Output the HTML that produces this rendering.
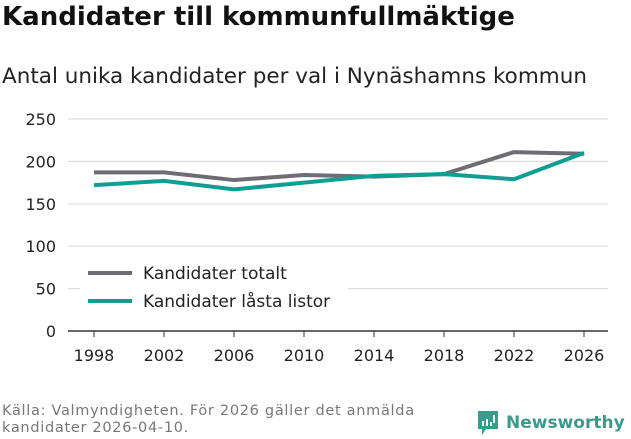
<!DOCTYPE html>
<html><head><meta charset="utf-8"><style>
body{margin:0;width:631px;height:439px;background:#fff;font-family:"DejaVu Sans","Liberation Sans",sans-serif;overflow:hidden;position:relative}
h1{position:absolute;left:2px;top:2px;margin:0;font-size:26px;font-weight:bold;color:#111}
h2{position:absolute;left:2px;top:64px;margin:0;font-size:21.5px;font-weight:normal;color:#222}
.src{position:absolute;left:2px;top:403px;font-size:14.5px;letter-spacing:0.7px;color:#777;line-height:17px}
.logo{position:absolute;left:476px;top:409px;display:flex;align-items:center;color:#3a9a8e;font-size:17px;font-weight:bold}
</style></head><body>
<h1>Kandidater till kommunfullmäktige</h1>
<h2>Antal unika kandidater per val i Nynäshamns kommun</h2>
<svg id="c" width="631" height="439" style="position:absolute;left:0;top:0"></svg>
<div class="src">Källa: Valmyndigheten. För 2026 gäller det anmälda<br>kandidater 2026-04-10.</div>
<div class="logo"><svg width="24" height="28" style="margin-right:6px"><path d="M2 2h20v18h-12l-4 6v-6h-4z" fill="#3a9a8e"/><rect x="6" y="12" width="2" height="5" fill="#fff"/><rect x="10" y="10" width="2" height="7" fill="#fff"/><rect x="14" y="13" width="2" height="4" fill="#fff"/><rect x="17" y="6" width="2" height="8" fill="#fff"/></svg>Newsworthy</div>
<script>
const years=[1998,2002,2006,2010,2014,2018,2022,2026];
const totalt=[187,187,178,184,182,185,211,209];
const lasta=[172,177,167,175,183,185,179,210];
const yTicks=[0,50,100,150,200,250];
const NS='http://www.w3.org/2000/svg';
const svg=document.getElementById('c');
const x=v=>94+(v-1998)/(2026-1998)*490;
const y=v=>331-v*0.848;
function el(t,a){const e=document.createElementNS(NS,t);for(const k in a)e.setAttribute(k,a[k]);svg.appendChild(e);return e;}
yTicks.forEach(t=>{
 const g=el('line',{x1:68,x2:608,y1:y(t),y2:y(t),stroke:t===0?'#333':'#ddd','stroke-width':t===0?1.5:1.2});
 
 
 const l=el('text',{x:56,y:y(t)+6,'text-anchor':'end','font-size':16,fill:'#222'});l.textContent=t;
 
 
});
years.forEach(yr=>{
 const tk=el('line',{x1:x(yr),x2:x(yr),y1:331,y2:337,stroke:'#333'});
 
 
 const l=el('text',{x:x(yr),y:361,'text-anchor':'middle','font-size':16,fill:'#222'});l.textContent=yr;
 
 
});
function line(vals,col,name){
 const p=el('polyline',{points:vals.map((v,i)=>x(years[i])+','+y(v)).join(' '),fill:'none',stroke:col,'stroke-width':4,'stroke-linejoin':'round'});
 
 
}
line(totalt,'#6f6c73','series-kandidater-totalt');
line(lasta,'#0e9e92','series-kandidater-lasta-listor');
const bg=el('rect',{x:80,y:258,width:268,height:62,fill:'#fff'});


[['Kandidater totalt','#6f6c73',273],['Kandidater låsta listor','#0e9e92',301]].forEach(([t,c,yy])=>{
 const m=el('line',{x1:88,x2:132,y1:yy,y2:yy,stroke:c,'stroke-width':4});
 
 
 const l=el('text',{x:143,y:yy+6,'font-size':17,fill:'#222'});l.textContent=t;
 
 
});
</script>
</body></html>
